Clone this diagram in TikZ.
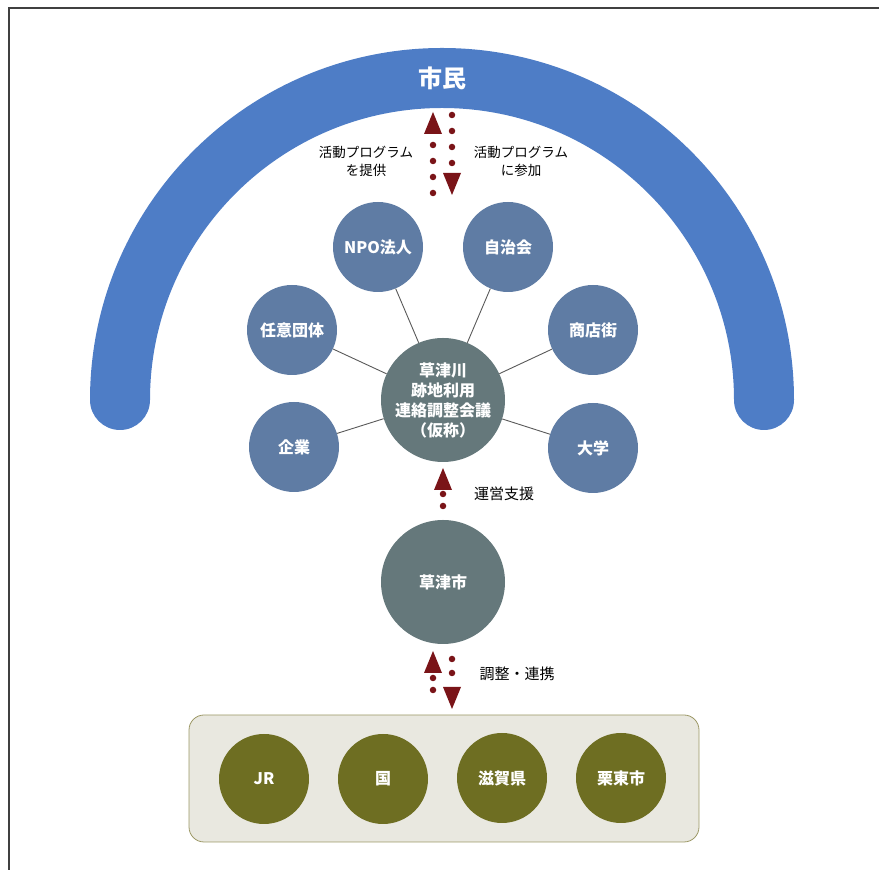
\documentclass[tikz,border=0pt]{standalone}
\usepackage{fontspec}
\setmainfont{Noto Sans CJK JP}
\usetikzlibrary{arrows.meta}
\definecolor{archblue}{HTML}{4E7DC6}
\definecolor{subblue}{HTML}{5F7CA4}
\definecolor{maingray}{HTML}{65787B}
\definecolor{olivegreen}{HTML}{6E6E22}
\definecolor{flowred}{HTML}{7A1418}
\definecolor{boxfill}{HTML}{E9E8E0}
\definecolor{boxline}{HTML}{9C9866}
\tikzset{
  sub/.style={circle, fill=subblue, minimum size=90pt, inner sep=0pt, text=white,
    font=\bfseries\fontsize{16}{20}\selectfont},
  hub/.style={circle, fill=maingray, minimum size=124pt, inner sep=0pt, text=white,
    align=center, font=\bfseries\fontsize{16}{20}\selectfont},
  gov/.style={circle, fill=olivegreen, minimum size=90pt, inner sep=0pt, text=white,
    font=\bfseries\fontsize{16}{20}\selectfont},
  note/.style={align=center, font=\fontsize{13.5}{18}\selectfont},
  tag/.style={font=\fontsize{15}{18}\selectfont},
  spoke/.style={draw=black!65, line width=0.9pt},
  flow/.style={flowred, line width=6.5pt, line cap=round, dash pattern=on 0pt off #1,
    -{Triangle[length=22pt,width=18pt,line width=0pt]}},
  flow/.default=16pt
}
\begin{document}
\begin{tikzpicture}[x=1pt,y=1pt]
  \useasboundingbox (0,0) rectangle (879,870);
  \draw[black!75, line width=1.5pt] (9,0) -- (9,862) -- (879,862);
  % citizens arch
  \draw[archblue, line width=60pt, line cap=round] (120,470) arc[start angle=180, end angle=0, radius=322];
  \node[text=white, font=\bfseries\fontsize{24}{28}\selectfont] (shimin) at (442,792) {市民};
  \coordinate (p1) at (433,677);
  \coordinate (p2) at (433,758);
  \coordinate (q1) at (452,755);
  \coordinate (q2) at (452,675);
  \draw[flow] (p1) -- (p2);
  \draw[flow] (q1) -- (q2);
  \node[note] (teikyo) at (366,709) {活動プログラム\\を提供};
  \node[note] (sanka) at (521,709) {活動プログラム\\に参加};
  % council and members
  \node[hub] (kaigi) at (443,470) {草津川\\跡地利用\\連絡調整会議\\（仮称）};
  \node[sub] (npo) at (378,623) {NPO法人};
  \node[sub] (jichi) at (508,623) {自治会};
  \node[sub] (nini) at (292,540) {任意団体};
  \node[sub] (shoten) at (593,540) {商店街};
  \node[sub] (kigyo) at (294,423) {企業};
  \node[sub] (daigaku) at (593,422) {大学};
  \foreach \n in {npo,jichi,nini,shoten,kigyo,daigaku}
    \draw[spoke] (kaigi) -- (\n);
  % city
  \node[hub] (kusatsu) at (443,288) {草津市};
  \coordinate (m1) at (443,364);
  \coordinate (m2) at (443,402);
  \draw[flow=12pt] (m1) -- (m2);
  \node[tag] (shien) at (504,376) {運営支援};
  % partners
  \draw[boxline, fill=boxfill, rounded corners=15pt, line width=0.8pt] (189,28) rectangle (699,155);
  \node[gov] (jr) at (264,91) {JR};
  \node[gov] (kuni) at (383,91) {国};
  \node[gov] (shiga) at (502,92) {滋賀県};
  \node[gov] (ritto) at (621,92) {栗東市};
  \coordinate (b1) at (433,180);
  \coordinate (b2) at (433,219);
  \coordinate (c1) at (452,211);
  \coordinate (c2) at (452,161);
  \draw[flow=12pt] (b1) -- (b2);
  \draw[flow=14pt] (c1) -- (c2);
  \node[tag] (renkei) at (517,196) {調整・連携};
\end{tikzpicture}
\end{document}
